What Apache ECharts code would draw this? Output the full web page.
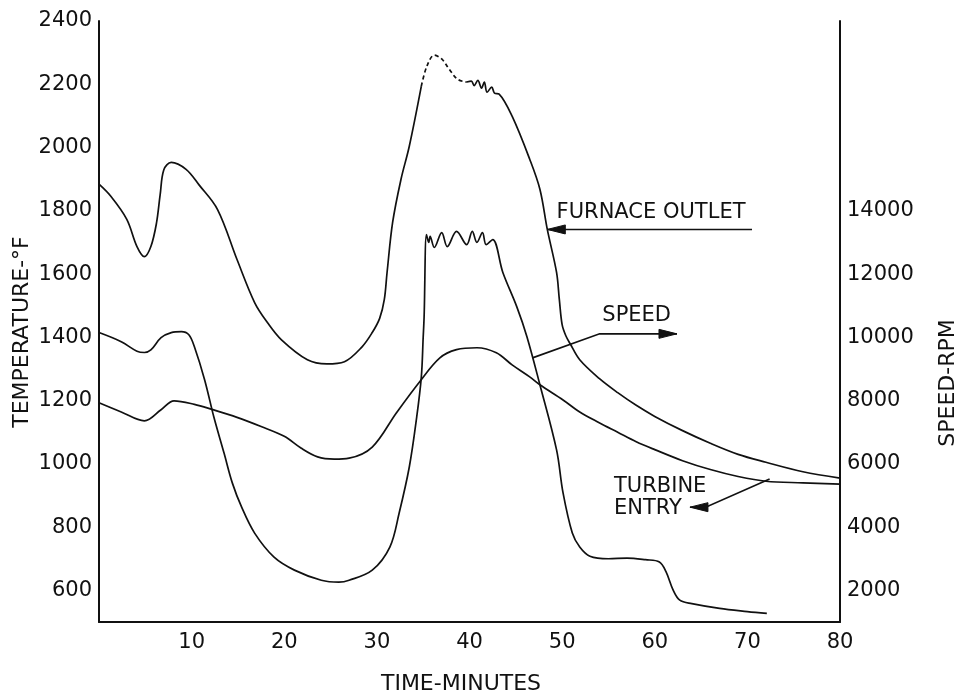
<!DOCTYPE html>
<html>
<head>
<meta charset="utf-8">
<script src="https://cdn.jsdelivr.net/npm/echarts@6/dist/echarts.min.js"></script>
<style>
  html, body { margin: 0; padding: 0; background: #fff; }
  #chart { width: 958px; height: 695px; }
</style>
</head>
<body>
<div id="chart"></div>
<script>
// Furnace outlet temperature (deg F) against time (minutes)
const furnaceTime = [0, 1.3, 3.0, 4.1, 4.9, 5.6, 6.2, 6.6, 7.0, 7.8, 9.4, 10.8, 12.8, 14.9, 16.8, 18.2, 19.7, 22.5, 24.6, 26.5, 28.4, 29.5, 30.3, 30.8, 31.1, 31.7, 32.6, 33.5, 34.8,
  35.4, 36.2, 37.0, 37.8, 38.7, 39.7,
  40.2, 40.5, 40.9, 41.3, 41.6, 41.9, 42.4, 42.7, 43.2, 44.6, 46.5, 47.6, 48.4, 49.4, 49.7, 50.0, 50.4, 50.9, 51.9,
  54, 56, 58, 60, 63, 66, 69, 72, 76, 80];
const furnaceTemp = [1884, 1845, 1773, 1687, 1655, 1687, 1760, 1850, 1930, 1953, 1931, 1882, 1804, 1646, 1510, 1446, 1392, 1329, 1316, 1323, 1370, 1415, 1460, 1519, 1605, 1763, 1899, 2004, 2194,
  2257, 2292, 2280, 2248, 2216, 2207,
  2210, 2196, 2212, 2188, 2207, 2175, 2191, 2172, 2169, 2099, 1963, 1868, 1741, 1605, 1519, 1440, 1405, 1378, 1329,
  1270, 1225, 1185, 1150, 1105, 1065, 1030, 1005, 975, 955];
// Stretch of the furnace trace drawn broken (estimated values)
const furnaceDashFrom = 34.8;
const furnaceDashTo = 39.7;

// Turbine entry temperature (deg F)
const turbineTime = [0, 2.4, 4.1, 4.9, 5.6, 6.7, 7.8, 8.9, 9.7, 10.3, 11.4, 12.4, 13.5, 14.4, 15.4, 16.8, 18.9, 21.1, 24.0, 25.9, 27.0, 29.5, 31.4, 32.4, 33.5, 34.3, 34.8, 35.0, 35.1,
  35.35, 35.6, 35.75, 36.2, 37.0, 37.6, 38.6, 39.7, 40.3, 40.8, 41.4, 41.8, 42.5,
  43.6, 45.1, 46.2, 47.6, 49.4, 50.1, 51.1, 51.9, 53, 55, 57, 59, 60.5, 61.2, 62.0, 62.7, 64, 67, 70, 72.1];
const turbineTemp = [1415, 1386, 1356, 1352, 1360, 1399, 1415, 1418, 1408, 1370, 1266, 1148, 1034, 939, 863, 781, 705, 664, 632, 626, 632, 664, 737, 844, 990, 1148, 1275, 1400, 1465,
  1725, 1700, 1719, 1684, 1731, 1687, 1735, 1693, 1735, 1700, 1731, 1693, 1709,
  1605, 1497, 1402, 1250, 1044, 908, 781, 737, 708, 700, 702, 697, 690, 660, 600, 569, 558, 543, 533, 527];

// Shaft speed (RPM)
const speedTime = [0, 2.4, 4.9, 6.7, 8.1, 10.3, 12.2, 14.9, 17.5, 20.0, 21.8, 23.6, 25.4, 27.0, 29.5, 32.1, 34.6, 36.8, 38.6, 40.8, 42.9, 44.6, 46.5, 47.6, 50.1, 51.9,
  54, 56, 58, 60, 63, 66, 69, 72, 76, 80];
const speedRpm = [7930, 7640, 7360, 7710, 7990, 7880, 7720, 7470, 7180, 6870, 6500, 6220, 6150, 6180, 6530, 7610, 8590, 9350, 9610, 9670, 9510, 9130, 8750, 8500, 8020, 7640,
  7300, 7000, 6700, 6450, 6100, 5820, 5600, 5450, 5400, 5360];

// Axis scales
const minuteTicks = [10, 20, 30, 40, 50, 60, 70, 80];
const tempTicks = [600, 800, 1000, 1200, 1400, 1600, 1800, 2000, 2200, 2400];
const rpmTicks = [2000, 4000, 6000, 8000, 10000, 12000, 14000];

const INK = '#111';
const FONT = 'DejaVu Sans';

function pairs(xs, ys, keep) {
  const out = [];
  for (let i = 0; i < xs.length; i++) {
    if (!keep || keep(xs[i])) out.push([xs[i], ys[i]]);
  }
  return out;
}

function lineSeries(data, yAxisIndex, dashed) {
  return {
    type: 'line',
    data: data,
    yAxisIndex: yAxisIndex,
    showSymbol: false,
    symbol: 'none',
    smooth: 0.35,
    silent: true,
    animation: false,
    lineStyle: { color: INK, width: 1.7, type: dashed ? [4, 3] : 'solid' }
  };
}

const chart = echarts.init(document.getElementById('chart'), null, { renderer: 'canvas' });

const axisLabelStyle = { color: INK, fontFamily: FONT, fontSize: 21 };

chart.setOption({
  backgroundColor: '#fff',
  animation: false,
  grid: { left: 99, right: 118, top: 21, bottom: 73, containLabel: false },
  xAxis: {
    type: 'value', min: 0, max: 80, interval: 10,
    axisLine: { show: true, lineStyle: { color: INK, width: 2 } },
    axisTick: { show: false },
    splitLine: { show: false },
    axisLabel: Object.assign({}, axisLabelStyle, {
      margin: 10,
      formatter: v => minuteTicks.indexOf(v) >= 0 ? String(v) : ''
    })
  },
  yAxis: [
    {
      type: 'value', min: 500, max: 2400, interval: 100, position: 'left',
      axisLine: { show: true, lineStyle: { color: INK, width: 2 } },
      axisTick: { show: false },
      splitLine: { show: false },
      axisLabel: Object.assign({}, axisLabelStyle, {
        margin: 7,
        formatter: v => tempTicks.indexOf(v) >= 0 ? String(v) : ''
      })
    },
    {
      type: 'value', min: 1000, max: 20000, interval: 1000, position: 'right',
      axisLine: { show: true, lineStyle: { color: INK, width: 2 } },
      axisTick: { show: false },
      splitLine: { show: false },
      axisLabel: Object.assign({}, axisLabelStyle, {
        margin: 7,
        formatter: v => rpmTicks.indexOf(v) >= 0 ? String(v) : ''
      })
    }
  ],
  series: [
    lineSeries(pairs(furnaceTime, furnaceTemp, t => t <= furnaceDashFrom), 0, false),
    lineSeries(pairs(furnaceTime, furnaceTemp, t => t >= furnaceDashFrom && t <= furnaceDashTo), 0, true),
    lineSeries(pairs(furnaceTime, furnaceTemp, t => t >= furnaceDashTo), 0, false),
    lineSeries(pairs(turbineTime, turbineTemp), 0, false),
    lineSeries(pairs(speedTime, speedRpm), 1, false)
  ]
});

// Annotations: labels and pointer arrows, placed in data space (minutes, deg F)
function px(t, T) {
  return chart.convertToPixel({ xAxisIndex: 0, yAxisIndex: 0 }, [t, T]);
}
function label(text, p, align, size) {
  return {
    type: 'text', x: p[0], y: p[1], silent: true,
    style: { text: text, fill: INK, font: (size || 21) + 'px "' + FONT + '"', align: align || 'left', verticalAlign: 'middle' }
  };
}
function leader(points) {
  return { type: 'polyline', silent: true, shape: { points: points }, style: { stroke: INK, lineWidth: 1.6, fill: null } };
}
function head(tip, dir) {
  const len = 18, half = 4.5;
  return {
    type: 'polygon', silent: true,
    shape: { points: [tip, [tip[0] - dir * len, tip[1] - half], [tip[0] - dir * len, tip[1] + half]] },
    style: { fill: INK, stroke: INK, lineWidth: 1 }
  };
}

const furnTip = px(48.4, 1741), furnEnd = px(70.5, 1741);
const spdStart = px(46.8, 1335), spdElbow = px(54.05, 1411), spdTip = px(62.4, 1411);
const turbStart = px(72.4, 952), turbElbow = px(65.5, 863), turbTip = px(63.8, 863);

const graphics = [
  label('FURNACE OUTLET', px(59.6, 1795), 'center'),
  leader([furnTip, furnEnd]),
  head(furnTip, -1),

  label('SPEED', px(58.05, 1468), 'center'),
  leader([spdStart, spdElbow, spdTip]),
  head(spdTip, 1),

  label('TURBINE', px(55.6, 927), 'left'),
  label('ENTRY', px(55.6, 860), 'left'),
  leader([turbStart, turbElbow, turbTip]),
  head(turbTip, -1),

  // Axis titles
  { type: 'text', x: 22, y: 332, rotation: Math.PI / 2, silent: true,
    style: { text: 'TEMPERATURE-°F', fill: INK, font: '22px "' + FONT + '"', align: 'center', verticalAlign: 'middle' } },
  { type: 'text', x: 948, y: 383, rotation: Math.PI / 2, silent: true,
    style: { text: 'SPEED-RPM', fill: INK, font: '22px "' + FONT + '"', align: 'center', verticalAlign: 'middle' } },
  { type: 'text', x: 461, y: 684, silent: true,
    style: { text: 'TIME-MINUTES', fill: INK, font: '22px "' + FONT + '"', align: 'center', verticalAlign: 'middle' } }
];

chart.setOption({ graphic: graphics });
</script>
</body>
</html>
